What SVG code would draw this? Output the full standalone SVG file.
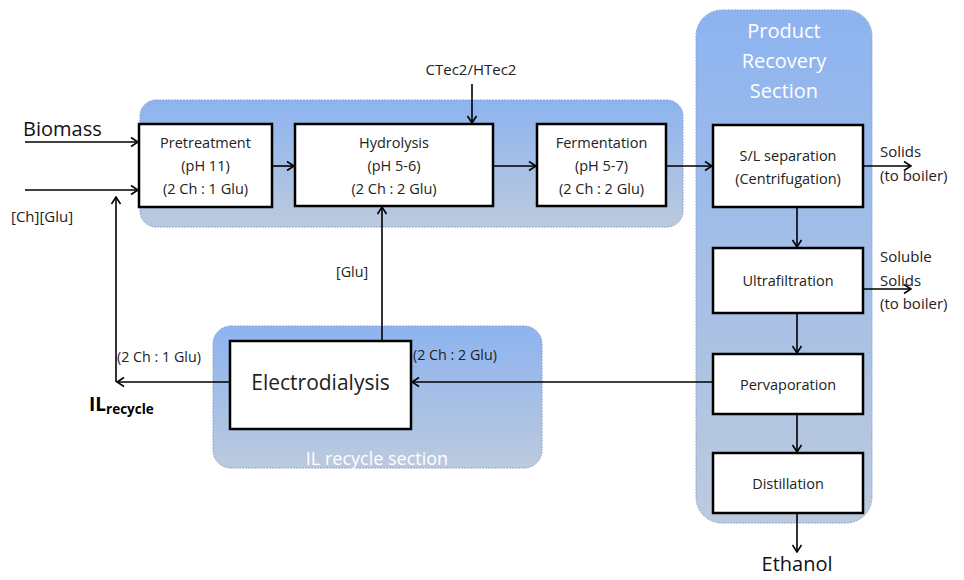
<svg xmlns="http://www.w3.org/2000/svg" width="964" height="580" viewBox="0 0 964 580">
<style>
.box{fill:#fff;stroke:#000;stroke-width:2.5}
.sec{stroke:#8aa6d2;stroke-width:1;stroke-dasharray:2 1}
.t{font-family:"Open Sans","Liberation Sans",sans-serif;font-size:14.5px;fill:#222;text-anchor:middle}
.s{font-family:"Open Sans","Liberation Sans",sans-serif;font-size:15px;fill:#222}
.sm{font-family:"Open Sans","Liberation Sans",sans-serif;font-size:14.3px;fill:#222}
.big{font-family:"Open Sans","Liberation Sans",sans-serif;font-size:20px;fill:#111}
.w{font-family:"Open Sans","Liberation Sans",sans-serif;fill:#fff;text-anchor:middle}
.c{fill:none;stroke:#000;stroke-width:1.6}
</style>
<defs>
<linearGradient id="g" x1="0" y1="0" x2="0" y2="1">
<stop offset="0" stop-color="#8db3f0"/>
<stop offset="1" stop-color="#bccadd"/>
</linearGradient>
<marker id="a" viewBox="0 0 12 12" refX="11" refY="6" markerWidth="12" markerHeight="12" markerUnits="userSpaceOnUse" orient="auto">
<polyline points="4,1.5 11,6 4,10.5" fill="none" stroke="#000" stroke-width="1.6"/>
</marker>
</defs>
<rect width="964" height="580" fill="#fff"/>
<g id="section-main"><rect x="140" y="100" width="543" height="127" rx="16" class="sec" fill="url(#g)"/></g>
<g id="section-recovery"><rect x="696" y="10" width="176" height="513" rx="26" class="sec" fill="url(#g)"/>
<text class="w" x="784" y="38" style="font-size:20px">Product</text>
<text class="w" x="784" y="68" style="font-size:20px">Recovery</text>
<text class="w" x="784" y="98" style="font-size:20px">Section</text></g>
<g id="section-il"><rect x="213" y="326" width="329" height="142" rx="18" class="sec" fill="url(#g)"/>
<text class="w" x="377" y="465" style="font-size:18px">IL recycle section</text></g>

<g id="connectors">
<line class="c" x1="25" y1="142" x2="138" y2="142" marker-end="url(#a)"/>
<line class="c" x1="25" y1="190" x2="138" y2="190" marker-end="url(#a)"/>
<line class="c" x1="116" y1="382" x2="116" y2="197" marker-end="url(#a)"/>
<line class="c" x1="230" y1="382" x2="117" y2="382" marker-end="url(#a)"/>
<line class="c" x1="713" y1="382" x2="412" y2="382" marker-end="url(#a)"/>
<line class="c" x1="382" y1="340" x2="382" y2="207" marker-end="url(#a)"/>
<line class="c" x1="472" y1="84" x2="472" y2="123" marker-end="url(#a)"/>
<line class="c" x1="272" y1="166" x2="294" y2="166" marker-end="url(#a)"/>
<line class="c" x1="493" y1="166" x2="536" y2="166" marker-end="url(#a)"/>
<line class="c" x1="666" y1="166" x2="712" y2="166" marker-end="url(#a)"/>
<line class="c" x1="863" y1="166" x2="911" y2="166" marker-end="url(#a)"/>
<line class="c" x1="863" y1="289" x2="911" y2="289" marker-end="url(#a)"/>
<line class="c" x1="797" y1="207" x2="797" y2="247" marker-end="url(#a)"/>
<line class="c" x1="797" y1="313" x2="797" y2="353" marker-end="url(#a)"/>
<line class="c" x1="797" y1="414" x2="797" y2="452" marker-end="url(#a)"/>
<line class="c" x1="797" y1="513" x2="797" y2="552" marker-end="url(#a)"/>
</g>

<g id="pretreatment"><rect class="box" x="139" y="124" width="133" height="83"/>
<text class="t" x="205.5" y="148">Pretreatment</text>
<text class="t" x="205.5" y="171">(pH 11)</text>
<text class="t" x="205.5" y="194">(2 Ch : 1 Glu)</text></g>
<g id="hydrolysis"><rect class="box" x="295" y="124" width="198" height="82"/>
<text class="t" x="394" y="148">Hydrolysis</text>
<text class="t" x="394" y="171">(pH 5-6)</text>
<text class="t" x="394" y="194">(2 Ch : 2 Glu)</text></g>
<g id="fermentation"><rect class="box" x="537" y="124" width="129" height="82"/>
<text class="t" x="601.5" y="148">Fermentation</text>
<text class="t" x="601.5" y="171">(pH 5-7)</text>
<text class="t" x="601.5" y="194">(2 Ch : 2 Glu)</text></g>
<g id="sl-separation"><rect class="box" x="713" y="125" width="150" height="82"/>
<text class="t" x="788" y="161">S/L separation</text>
<text class="t" x="788" y="184">(Centrifugation)</text></g>
<g id="ultrafiltration"><rect class="box" x="713" y="248" width="150" height="65"/>
<text class="t" x="788" y="286">Ultrafiltration</text></g>
<g id="pervaporation"><rect class="box" x="713" y="354" width="150" height="60"/>
<text class="t" x="788" y="390">Pervaporation</text></g>
<g id="distillation"><rect class="box" x="713" y="453" width="150" height="60"/>
<text class="t" x="788" y="489">Distillation</text></g>
<g id="electrodialysis"><rect class="box" x="230" y="341" width="181" height="88"/>
<text class="t" x="320.5" y="390" style="font-size:21px">Electrodialysis</text></g>

<g id="labels">
<text class="big" x="23" y="136">Biomass</text>
<text class="s" x="11" y="222">[Ch][Glu]</text>
<text class="s" x="471" y="75" text-anchor="middle">CTec2/HTec2</text>
<text class="sm" x="336" y="277">[Glu]</text>
<text class="sm" x="117" y="362">(2 Ch : 1 Glu)</text>
<text class="sm" x="413" y="360">(2 Ch : 2 Glu)</text>
<text x="89" y="411" font-family="Open Sans, Liberation Sans, sans-serif" font-weight="bold" font-size="19" fill="#000">IL<tspan font-size="13.5" dy="3">recycle</tspan></text>
<text class="s" x="880" y="157">Solids</text>
<text class="s" x="880" y="181">(to boiler)</text>
<text class="s" x="880" y="262">Soluble</text>
<text class="s" x="880" y="286">Solids</text>
<text class="s" x="880" y="309">(to boiler)</text>
<text class="big" x="797" y="571" text-anchor="middle">Ethanol</text>
</g>
</svg>
